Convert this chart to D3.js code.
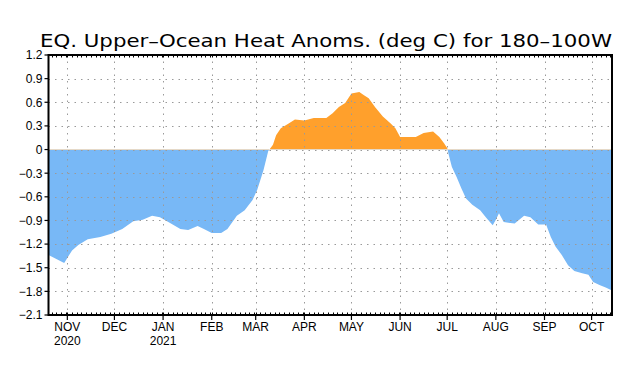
<!DOCTYPE html>
<html>
<head>
<meta charset="utf-8">
<script src="https://cdn.jsdelivr.net/npm/d3@7"></script>
<style>
  html, body { margin: 0; padding: 0; background: #fff; }
  svg { display: block; }
  text { font-family: "Liberation Sans", Arial, sans-serif; fill: #000; }
</style>
</head>
<body>
<svg id="chart" width="640" height="386"></svg>
<script>
// ---------------- DATA ----------------
const titleText = "EQ. Upper\u2013Ocean Heat Anoms. (deg C) for 180\u2013100W";

const dates = [
  "2020-10-20","2020-10-30","2020-11-04","2020-11-08","2020-11-14","2020-11-22","2020-11-29",
  "2020-12-06","2020-12-13","2020-12-19","2020-12-25","2020-12-30","2021-01-06","2021-01-12",
  "2021-01-17","2021-01-23","2021-01-27","2021-02-01","2021-02-07","2021-02-11","2021-02-17",
  "2021-02-22","2021-02-27","2021-03-02","2021-03-06","2021-03-09","2021-03-12","2021-03-14",
  "2021-03-17","2021-03-22","2021-03-26","2021-04-01","2021-04-07","2021-04-15","2021-04-19",
  "2021-04-23","2021-04-27","2021-05-01","2021-05-06","2021-05-09","2021-05-12","2021-05-16",
  "2021-05-21","2021-05-26","2021-05-29","2021-06-01","2021-06-06","2021-06-11","2021-06-16",
  "2021-06-22","2021-06-26","2021-06-29","2021-07-01","2021-07-02","2021-07-04","2021-07-07",
  "2021-07-10","2021-07-13","2021-07-17","2021-07-22","2021-07-26","2021-07-30","2021-08-01",
  "2021-08-03","2021-08-06","2021-08-13","2021-08-19","2021-08-23","2021-08-28","2021-09-02",
  "2021-09-05","2021-09-08","2021-09-12","2021-09-16","2021-09-20","2021-09-25","2021-09-29",
  "2021-10-02","2021-10-06","2021-10-10","2021-10-14"
];
const values = [
  -1.34,-1.44,-1.28,-1.21,-1.14,-1.11,-1.07,
  -1.01,-0.91,-0.89,-0.84,-0.86,-0.94,-1.01,
  -1.02,-0.97,-1.01,-1.06,-1.06,-1.01,-0.84,
  -0.77,-0.64,-0.51,-0.26,-0.02,0.06,0.18,
  0.27,0.33,0.38,0.37,0.40,0.40,0.46,
  0.54,0.59,0.71,0.73,0.69,0.65,0.54,
  0.42,0.33,0.27,0.16,0.16,0.16,0.21,
  0.23,0.16,0.08,0.02,-0.07,-0.22,-0.35,
  -0.49,-0.62,-0.70,-0.77,-0.87,-0.96,-0.89,
  -0.81,-0.92,-0.94,-0.84,-0.86,-0.95,-0.95,
  -1.11,-1.23,-1.34,-1.47,-1.54,-1.57,-1.59,
  -1.68,-1.72,-1.75,-1.79
];

const yTicks = [1.2, 0.9, 0.6, 0.3, 0, -0.3, -0.6, -0.9, -1.2, -1.5, -1.8, -2.1];
const yTickLabels = ["1.2","0.9","0.6","0.3","0","\u22120.3","\u22120.6","\u22120.9","\u22121.2","\u22121.5","\u22121.8","\u22122.1"];

const monthTicks = ["2020-11-01","2020-12-01","2021-01-01","2021-02-01","2021-03-01","2021-04-01",
                    "2021-05-01","2021-06-01","2021-07-01","2021-08-01","2021-09-01","2021-10-01"];
const monthLabels = ["NOV","DEC","JAN","FEB","MAR","APR","MAY","JUN","JUL","AUG","SEP","OCT"];
const yearLabels  = ["2020","","2021","","","","","","","","",""];

const domainStart = "2020-10-20";
const domainEnd   = "2021-10-14";

(function () {
// ---------------- LAYOUT ----------------
const pL = 48.5, pR = 612, pT = 55, pB = 315;
const blue = "#78b8f6", orange = "#ffa02c";

const parse = d3.utcParse("%Y-%m-%d");
const data = dates.map((d, i) => ({ date: parse(d), v: values[i] }));

const x = d3.scaleUtc().domain([parse(domainStart), parse(domainEnd)]).range([pL, pR]);
const y = d3.scaleLinear().domain([-2.1, 1.2]).range([pB, pT]);

const svg = d3.select("#chart");
const defs = svg.append("defs");
defs.append("clipPath").attr("id", "clipNeg")
  .append("rect").attr("x", pL).attr("y", y(0)).attr("width", pR - pL).attr("height", pB - y(0));
defs.append("clipPath").attr("id", "clipPos")
  .append("rect").attr("x", pL).attr("y", pT).attr("width", pR - pL).attr("height", y(0) - pT);

const area = d3.area()
  .x(d => x(d.date))
  .y0(y(0))
  .y1(d => y(d.v))
  .curve(d3.curveLinear);

svg.append("path").datum(data).attr("d", area).attr("fill", blue).attr("clip-path", "url(#clipNeg)");
svg.append("path").datum(data).attr("d", area).attr("fill", orange).attr("clip-path", "url(#clipPos)");

// grid
const grid = svg.append("g").attr("stroke", "#9a9a9a").attr("stroke-width", 1)
  .attr("stroke-dasharray", "1.5,5").attr("fill", "none");
yTicks.slice(1, -1).forEach(t => {
  grid.append("line").attr("x1", pL).attr("x2", pR).attr("y1", Math.round(y(t)) + 0.5).attr("y2", Math.round(y(t)) + 0.5);
});
monthTicks.forEach(m => {
  const xx = Math.round(x(parse(m))) + 0.5;
  grid.append("line").attr("x1", xx).attr("x2", xx).attr("y1", pT).attr("y2", pB);
});

// minor ticks top/bottom (every 3 days)
const minor = svg.append("g").attr("stroke", "#000").attr("stroke-width", 1);
d3.utcDay.every(3).range(parse(domainStart), parse(domainEnd)).forEach(d => {
  const xx = Math.round(x(d)) + 0.5;
  minor.append("line").attr("x1", xx).attr("x2", xx).attr("y1", pB).attr("y2", pB - 2.5);
  minor.append("line").attr("x1", xx).attr("x2", xx).attr("y1", pT).attr("y2", pT + 2.5);
});

// frame
svg.append("rect").attr("x", pL).attr("y", pT).attr("width", pR - pL).attr("height", pB - pT)
  .attr("fill", "none").attr("stroke", "#000").attr("stroke-width", 2);

// y axis ticks & labels
const yAx = svg.append("g");
yTicks.forEach((t, i) => {
  yAx.append("line").attr("x1", pL - 4).attr("x2", pL).attr("y1", y(t)).attr("y2", y(t))
    .attr("stroke", "#000").attr("stroke-width", 1.2);
  yAx.append("text").attr("x", pL - 6).attr("y", y(t)).attr("dy", "0.36em")
    .attr("text-anchor", "end").attr("font-size", 12).text(yTickLabels[i]);
});

// x axis ticks & labels
const xAx = svg.append("g");
monthTicks.forEach((m, i) => {
  const xx = x(parse(m));
  xAx.append("line").attr("x1", xx).attr("x2", xx).attr("y1", pB).attr("y2", pB + 5)
    .attr("stroke", "#000").attr("stroke-width", 1.2);
  xAx.append("text").attr("x", xx).attr("y", pB + 16).attr("text-anchor", "middle")
    .attr("font-size", 12).text(monthLabels[i]);
  if (yearLabels[i]) {
    xAx.append("text").attr("x", xx).attr("y", pB + 30).attr("text-anchor", "middle")
      .attr("font-size", 12).text(yearLabels[i]);
  }
});

// title
svg.append("text").attr("x", 326).attr("y", 47).attr("text-anchor", "middle")
  .style("font-family", "'DejaVu Sans', sans-serif")
  .attr("font-size", 18.5).attr("textLength", 572).attr("lengthAdjust", "spacingAndGlyphs").text(titleText);
})();
</script>
</body>
</html>
